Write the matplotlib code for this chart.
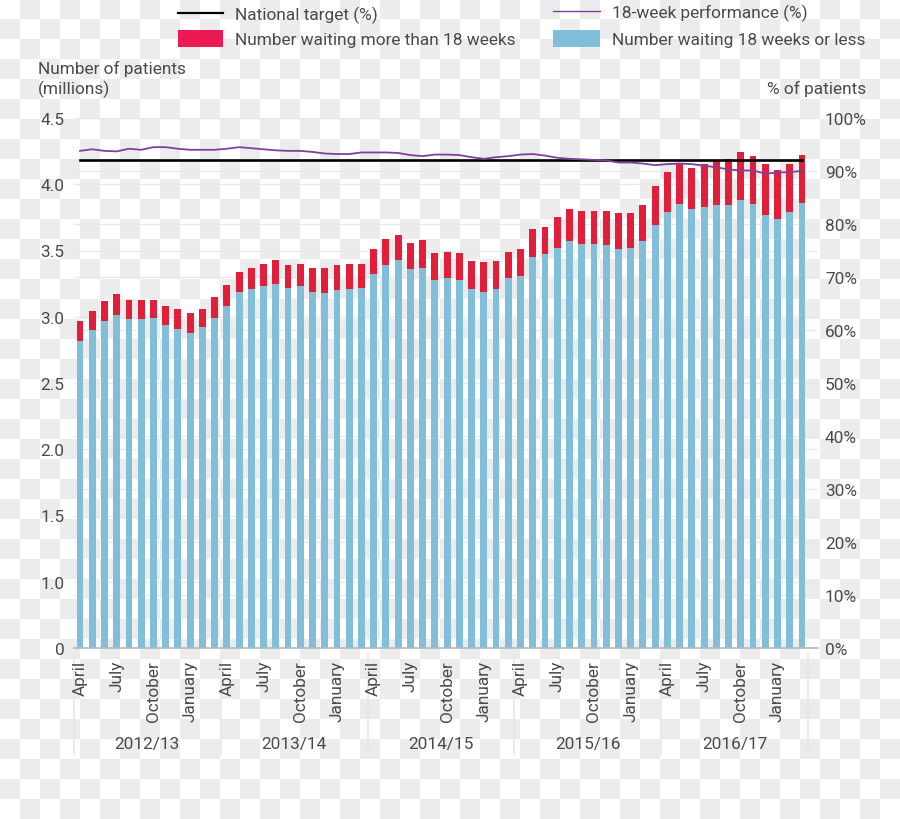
"""
Waiting list chart: patients waiting for treatment, April 2012 - March 2017.
"""
import numpy as np
import matplotlib
matplotlib.use('Agg')
import matplotlib.pyplot as plt
import matplotlib.transforms as mtrans
from matplotlib.patches import Rectangle

# ─── Colours / fonts ──────────────────────────────────────────────────────────
C_TEXT    = "#4a4a4a"
C_BLUE    = "#80bed9"
C_RED     = "#e21f3b"
C_RED_KEY = "#ec1a52"
C_PURPLE  = "#7d4199"
C_GRID    = "#e8e8e8"
C_BASE    = "#b8b8b8"
C_SEP     = "#e6e6e6"
C_CHECK   = "#ececec"

FONT = "Roboto"
FS   = 12.4
plt.rcParams['font.family'] = [FONT, 'DejaVu Sans']

# ─── Data ─────────────────────────────────────────────────────────────────────
YEARS  = ['2012/13', '2013/14', '2014/15', '2015/16', '2016/17']
MONTHS = ['April', 'May', 'June', 'July', 'August', 'September', 'October',
          'November', 'December', 'January', 'February', 'March']

# millions of patients waiting (all), monthly
total_waiting = [2.97, 3.04, 3.12, 3.17, 3.13, 3.13, 3.13, 3.08, 3.06, 3.03, 3.06, 3.15,
                 3.24, 3.34, 3.37, 3.40, 3.43, 3.39, 3.40, 3.37, 3.37, 3.39, 3.40, 3.40,
                 3.51, 3.59, 3.62, 3.56, 3.58, 3.48, 3.49, 3.48, 3.42, 3.41, 3.42, 3.49,
                 3.51, 3.66, 3.68, 3.75, 3.81, 3.80, 3.80, 3.80, 3.78, 3.78, 3.84, 3.99,
                 4.09, 4.15, 4.12, 4.15, 4.18, 4.19, 4.24, 4.21, 4.15, 4.11, 4.15, 4.22]

# millions waiting 18 weeks or less
within_18wk = [2.82, 2.90, 2.97, 3.01, 2.98, 2.98, 2.99, 2.94, 2.91, 2.88, 2.92, 2.99,
               3.08, 3.19, 3.21, 3.23, 3.25, 3.22, 3.23, 3.19, 3.18, 3.20, 3.21, 3.22,
               3.32, 3.39, 3.43, 3.36, 3.37, 3.28, 3.29, 3.28, 3.21, 3.19, 3.21, 3.29,
               3.31, 3.45, 3.47, 3.52, 3.57, 3.55, 3.55, 3.54, 3.51, 3.52, 3.57, 3.69,
               3.79, 3.85, 3.81, 3.83, 3.84, 3.84, 3.88, 3.85, 3.77, 3.74, 3.79, 3.86]

# % of patients waiting 18 weeks or less
performance_pct = [93.8, 94.1, 93.8, 93.7, 94.2, 94.0, 94.5, 94.5, 94.2, 94.0, 94.0, 94.0,
                   94.2, 94.5, 94.3, 94.1, 93.9, 93.8, 93.8, 93.6, 93.3, 93.2, 93.2, 93.5,
                   93.5, 93.5, 93.4, 93.0, 92.8, 93.1, 93.1, 93.0, 92.6, 92.3, 92.6, 92.8,
                   93.1, 93.2, 92.9, 92.5, 92.3, 92.2, 92.1, 92.0, 91.6, 91.6, 91.4, 91.1,
                   91.3, 91.4, 91.3, 91.0, 90.7, 90.3, 90.1, 90.1, 89.5, 89.7, 89.8, 90.0]

TARGET_PCT = 92

# left axis: evenly spaced ticks, bottom one labelled 0
left_ticks  = [0.5, 1.0, 1.5, 2.0, 2.5, 3.0, 3.5, 4.0, 4.5]
left_labels = ['0', '1.0', '1.5', '2.0', '2.5', '3.0', '3.5', '4.0', '4.5']
right_ticks = list(range(0, 101, 10))

# ─── Figure + checkered page ──────────────────────────────────────────────────
W, H = 900, 820
fig = plt.figure(figsize=(W / 100, H / 100), dpi=100)

bg = fig.add_axes([0, 0, 1, 1])
bg.axis('off')
bg.set_zorder(0)
sq = 20
ii, jj = np.indices((H // sq + 1, W // sq + 1))
grey = np.array(matplotlib.colors.to_rgb(C_CHECK))
checker = np.where(((ii + jj) % 2 == 1)[..., None], grey, np.ones(3))
bg.imshow(checker, extent=(0, (W // sq + 1) * sq, (H // sq + 1) * sq, 0),
          interpolation='nearest', aspect='auto')
bg.set_xlim(0, W)
bg.set_ylim(H, 0)

# ─── Main axes ────────────────────────────────────────────────────────────────
ax = fig.add_axes([74 / W, 1 - 649 / H, (818 - 74) / W, 530 / H])
ax.set_zorder(1)
ax.patch.set_alpha(0)

n = len(total_waiting)
x = np.arange(n)
total = np.array(total_waiting)
within = np.array(within_18wk)
over = total - within

ax.bar(x, within, width=0.56, color=C_BLUE, zorder=3)
ax.bar(x, over, bottom=within, width=0.56, color=C_RED, zorder=3)

ax.set_xlim(-0.49, 60.31)
ax.set_ylim(0.5, 4.5)
ax.set_yticks(left_ticks, left_labels)
for t in left_ticks[1:]:
    ax.axhline(t, color=C_GRID, lw=0.9, zorder=1)
ax.axhline(0.5, color=C_BASE, lw=1.2, zorder=4, clip_on=False)

for s in ax.spines.values():
    s.set_visible(False)

# month ticks every quarter
qt = x[::3]
ax.set_xticks(qt, [MONTHS[i % 12] for i in qt], rotation=90, va='top', ha='center')
ax.tick_params(axis='x', length=0, pad=8.5, labelsize=FS, labelcolor=C_TEXT)
ax.tick_params(axis='y', length=0, pad=7, labelsize=FS, labelcolor=C_TEXT)

# year separators + labels
tr = mtrans.blended_transform_factory(ax.transData, ax.transAxes)
for k in range(len(YEARS) + 1):
    xs = k * 12 - 0.5
    ax.plot([xs, xs], [-0.011, -0.2], transform=tr, color=C_SEP, lw=1.2,
            clip_on=False, zorder=0)
for k, yr in enumerate(YEARS):
    ax.text(k * 12 + 5.5, -0.181, yr, transform=tr, ha='center', va='center',
            fontsize=FS, color=C_TEXT)

# ─── Right axis (percent) ─────────────────────────────────────────────────────
ax2 = ax.twinx()
ax2.set_zorder(2)
ax2.patch.set_alpha(0)
ax2.set_ylim(0, 100)
ax2.set_yticks(right_ticks, [f"{t}%" for t in right_ticks])
ax2.tick_params(axis='y', length=0, pad=5, labelsize=FS, labelcolor=C_TEXT)
for s in ax2.spines.values():
    s.set_visible(False)
for t in right_ticks[1:]:
    ax.axhline(0.5 + t / 100 * 4.0, color=C_GRID, lw=0.9, zorder=1)

ax2.plot(x, [TARGET_PCT] * n, color='black', lw=1.9, zorder=5)
ax2.plot(x, performance_pct, color=C_PURPLE, lw=1.3, zorder=6)

# ─── Axis titles ──────────────────────────────────────────────────────────────
bg.text(38, 69, "Number of patients", ha='left', va='center', fontsize=FS, color=C_TEXT)
bg.text(38, 89, "(millions)", ha='left', va='center', fontsize=FS, color=C_TEXT)
bg.text(866, 89, "% of patients", ha='right', va='center', fontsize=FS, color=C_TEXT)

# ─── Legend ───────────────────────────────────────────────────────────────────
bg.plot([178, 223], [14, 14], color='black', lw=1.6)
bg.text(235, 15, "National target (%)", va='center', fontsize=FS, color=C_TEXT)
bg.add_patch(Rectangle((178, 31), 45, 17, facecolor=C_RED_KEY, edgecolor='none'))
bg.text(235, 40, "Number waiting more than 18 weeks", va='center', fontsize=FS, color=C_TEXT)
bg.plot([553, 600], [12, 12], color=C_PURPLE, lw=1.0)
bg.text(612, 13, "18-week performance (%)", va='center', fontsize=FS, color=C_TEXT)
bg.add_patch(Rectangle((553, 31), 47, 17, facecolor=C_BLUE, edgecolor='none'))
bg.text(612, 40, "Number waiting 18 weeks or less", va='center', fontsize=FS, color=C_TEXT)

fig.savefig("out.png", dpi=100)
plt.close(fig)
